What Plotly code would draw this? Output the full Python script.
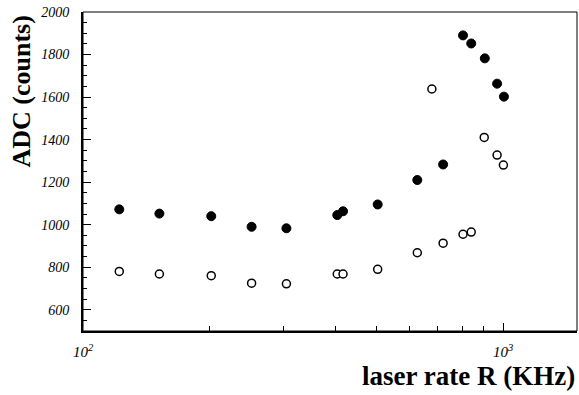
import plotly.graph_objects as go

# Laser rate (kHz) and ADC counts for the two measurement sets
rate_filled = [122, 152, 202, 252, 305, 403, 416, 503, 625, 720, 803, 840, 905, 968, 1005]
adc_filled = [1072, 1052, 1040, 990, 983, 1045, 1063, 1095, 1210, 1283, 1890, 1852, 1782, 1663, 1602]

rate_open = [122, 152, 202, 252, 305, 403, 416, 503, 625, 677, 720, 803, 840, 902, 968, 1002]
adc_open = [780, 768, 760, 725, 722, 768, 768, 790, 868, 1638, 913, 955, 965, 1410, 1327, 1280]

x_major = [100, 1000]
x_major_text = ["<i>10<sup>2</sup></i>", "<i>10<sup>3</sup></i>"]
x_minor = [200, 300, 400, 500, 600, 700, 800, 900]

y_major = [600, 800, 1000, 1200, 1400, 1600, 1800, 2000]
y_major_text = [f"<i>{v}</i>" for v in y_major]

serif = "Liberation Serif"

fig = go.Figure()
fig.add_trace(go.Scatter(
    x=rate_filled, y=adc_filled, mode="markers",
    marker=dict(symbol="circle", size=9, color="black", line=dict(color="black", width=1)),
    showlegend=False,
))
fig.add_trace(go.Scatter(
    x=rate_open, y=adc_open, mode="markers",
    marker=dict(symbol="circle", size=8, color="white", line=dict(color="black", width=1.5)),
    showlegend=False,
))

fig.update_layout(
    width=579, height=395,
    margin=dict(l=83, r=2, t=12, b=64),
    paper_bgcolor="white", plot_bgcolor="white",
    xaxis=dict(
        type="log", range=[2, 3.1761],
        showgrid=False, zeroline=False,
        showline=True, linecolor="black", linewidth=2,
        tickmode="array", tickvals=x_major, ticktext=x_major_text,
        ticks="inside", ticklen=8, tickwidth=1, tickcolor="black",
        tickfont=dict(family=serif, size=15, color="black"),
        ticklabelstandoff=6,
        minor=dict(tickmode="array", tickvals=x_minor, ticks="inside",
                   ticklen=5, tickwidth=1, tickcolor="black", showgrid=False),
    ),
    yaxis=dict(
        range=[500, 2000],
        showgrid=False, zeroline=False,
        showline=True, linecolor="black", linewidth=2,
        tickmode="array", tickvals=y_major, ticktext=y_major_text,
        ticks="inside", ticklen=8, tickwidth=1, tickcolor="black",
        tickfont=dict(family=serif, size=14, color="black"),
        ticklabelstandoff=9,
        minor=dict(tickmode="linear", tick0=0, dtick=50, ticks="inside", ticklen=4,
                   tickwidth=1, tickcolor="black", showgrid=False),
    ),
    shapes=[dict(type="rect", xref="paper", yref="paper", x0=0, x1=1, y0=0, y1=1,
                 line=dict(color="black", width=1))],
    annotations=[
        dict(text="<b>ADC (counts)</b>", textangle=-90, xref="paper", yref="paper",
             x=-0.124, y=0.75, xanchor="center", yanchor="middle", showarrow=False,
             font=dict(family=serif, size=26, color="black")),
        dict(text="<b>laser rate R (KHz)</b>", xref="paper", yref="paper",
             x=1, y=-0.14, xanchor="right", yanchor="middle", showarrow=False,
             font=dict(family=serif, size=27, color="black")),
    ],
)

fig.write_html("out.html")
